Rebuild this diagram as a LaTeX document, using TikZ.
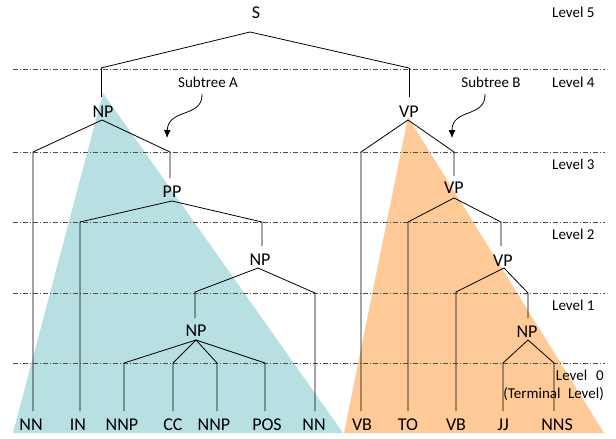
\documentclass[tikz,border=0pt]{standalone}
\usepackage{fontspec}
\setmainfont{Carlito}
\usetikzlibrary{arrows.meta}
\definecolor{tealfill}{HTML}{B8DFE1}
\definecolor{orangefill}{HTML}{FFCA98}
\begin{document}
\begin{tikzpicture}[x=1pt,y=-1pt,
  lvl/.style={draw=black!70, line width=0.8pt, dash pattern=on 5pt off 2pt on 1pt off 2pt},
  edge/.style={draw=black, line width=0.8pt},
  cat/.style={font=\fontsize{18}{20}\selectfont, inner sep=0pt, anchor=base},
  lab/.style={font=\fontsize{15}{17}\selectfont, inner sep=0pt, anchor=base},
  lvllab/.style={font=\fontsize{15}{17}\selectfont, inner sep=0pt, anchor=base west},
  callout/.style={draw=black, line width=0.8pt, -{Latex[length=8pt,width=7pt]}}
]
\useasboundingbox (0,0) rectangle (616,439);
% subtree triangles
\fill[tealfill] (103,93) -- (13,433) -- (343,433) -- cycle;
\fill[orangefill] (408,117) -- (344,433) -- (604,433) -- cycle;
% level lines
\foreach \yy in {69,152,222,293,363} \draw[lvl] (13,\yy) -- (605,\yy);
% level labels
\node[lvllab] (L5) at (552,17) {Level 5};
\node[lvllab] (L4) at (552,87) {Level 4};
\node[lvllab] (L3) at (552,169) {Level 3};
\node[lvllab] (L2) at (552,239) {Level 2};
\node[lvllab] (L1) at (552,310) {Level 1};
\node[lab, anchor=base east] (L0) at (604,380) {Level\hspace{0.6em}0};
\node[lab, anchor=base east] (L0b) at (604,398) {(Terminal\hspace{0.5em}Level)};
% subtree labels and arrows
\node[lab] (SA) at (208,87) {Subtree A};
\node[lab] (SB) at (491,87) {Subtree B};
\coordinate (SAs) at (202,94); \coordinate (SAe) at (167,138);
\coordinate (SBs) at (485,94); \coordinate (SBe) at (452,138);
\draw[callout] (SAs) .. controls (203,118) and (168,108) .. (SAe);
\draw[callout] (SBs) .. controls (486,118) and (452,108) .. (SBe);
% category labels
\node[cat] (S) at (256,18) {S};
\node[cat] (NP1) at (103,117) {NP};
\node[cat] (PP) at (172,197) {PP};
\node[cat] (NP2) at (260,265) {NP};
\node[cat] (NP3) at (196,336) {NP};
\node[cat] (VP1) at (409,117) {VP};
\node[cat] (VP2) at (454,193) {VP};
\node[cat] (VP3) at (503,266) {VP};
\node[cat] (NP4) at (527,337) {NP};
% terminals
\node[cat] (T1) at (31,430) {NN};
\node[cat] (T2) at (78,430) {IN};
\node[cat] (T3) at (122,430) {NNP};
\node[cat] (T4) at (173,430) {CC};
\node[cat] (T5) at (214,430) {NNP};
\node[cat] (T6) at (267,430) {POS};
\node[cat] (T7) at (314,430) {NN};
\node[cat] (T8) at (362,430) {VB};
\node[cat] (T9) at (408,430) {TO};
\node[cat] (T10) at (456,430) {VB};
\node[cat] (T11) at (503,430) {JJ};
\node[cat] (T12) at (557,430) {NNS};
% apexes, tops, corners
\coordinate (Sa) at (250,32);
\coordinate (c1) at (101,68); \coordinate (c2) at (409,68);
\coordinate (NP1t) at (101,97); \coordinate (NP1a) at (102,120);
\coordinate (c3) at (33,152); \coordinate (c4) at (170,152);
\coordinate (PPt) at (170,178); \coordinate (PPa) at (172,201);
\coordinate (c5) at (80,222); \coordinate (c6) at (262,222);
\coordinate (NP2t) at (262,246); \coordinate (NP2a) at (258,268);
\coordinate (c7) at (195,292); \coordinate (c12) at (315,293);
\coordinate (NP3t) at (195,318); \coordinate (NP3a) at (196,340);
\coordinate (c8) at (124,363); \coordinate (c9) at (173,363);
\coordinate (c10) at (217,363); \coordinate (c11) at (265,363);
\coordinate (VP1t) at (409,97); \coordinate (VP1a) at (408,120);
\coordinate (c13) at (361,152); \coordinate (c14) at (454,152);
\coordinate (VP2t) at (454,176); \coordinate (VP2a) at (454,198);
\coordinate (c15) at (408,222); \coordinate (c16) at (501,222);
\coordinate (VP3t) at (501,246); \coordinate (VP3a) at (504,268);
\coordinate (c17) at (456,292); \coordinate (c18) at (528,293);
\coordinate (NP4t) at (528,318); \coordinate (NP4a) at (528,340);
\coordinate (c19) at (503,363); \coordinate (c20) at (554,363);
% terminal line ends
\foreach \n/\xx in {t1/33,t2/80,t3/124,t4/173,t5/217,t6/265,t7/315,t8/361,t9/408,t10/456,t11/503,t12/554}
  \coordinate (\n) at (\xx,411);
% edges
\draw[edge] (c1) -- (Sa) -- (c2);
\draw[edge] (c1) -- (NP1t);
\draw[edge] (c2) -- (VP1t);
\draw[edge] (t1) -- (c3) -- (NP1a) -- (c4) -- (PPt);
\draw[edge] (t2) -- (c5) -- (PPa) -- (c6) -- (NP2t);
\draw[edge] (NP3t) -- (c7) -- (NP2a) -- (c12) -- (t7);
\draw[edge] (t3) -- (c8) -- (NP3a) -- (c11) -- (t6);
\draw[edge] (t4) -- (c9) -- (NP3a) -- (c10) -- (t5);
\draw[edge] (t8) -- (c13) -- (VP1a) -- (c14) -- (VP2t);
\draw[edge] (t9) -- (c15) -- (VP2a) -- (c16) -- (VP3t);
\draw[edge] (t10) -- (c17) -- (VP3a) -- (c18) -- (NP4t);
\draw[edge] (t11) -- (c19) -- (NP4a) -- (c20) -- (t12);
\end{tikzpicture}
\end{document}
